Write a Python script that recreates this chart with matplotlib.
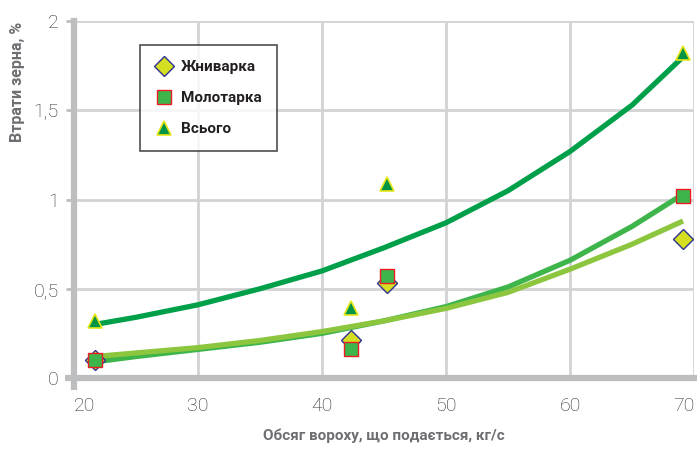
import matplotlib.pyplot as plt

# Point data
x_pts = [21.7, 42.3, 45.2, 69.1]
zhnyvarka = [0.10, 0.21, 0.53, 0.78]
molotarka = [0.10, 0.16, 0.57, 1.02]
vsogo = [0.32, 0.39, 1.09, 1.82]

# Trend curves
x_curve = [21.7, 25, 30, 35, 40, 45, 50, 55, 60, 65, 69.1]
vsogo_curve = [0.30, 0.34, 0.41, 0.50, 0.60, 0.73, 0.87, 1.05, 1.27, 1.53, 1.80]
molotarka_curve = [0.09, 0.12, 0.16, 0.20, 0.25, 0.32, 0.40, 0.51, 0.66, 0.85, 1.03]
zhnyvarka_curve = [0.12, 0.14, 0.17, 0.21, 0.26, 0.32, 0.39, 0.48, 0.61, 0.75, 0.88]

x_ticks = [20, 30, 40, 50, 60, 70]
y_ticks = [0, 0.5, 1, 1.5, 2]
y_ticklabels = ['0', '0,5', '1', '1,5', '2']

plt.rcParams['font.family'] = ['Roboto', 'DejaVu Sans']

fig = plt.figure(figsize=(6.97, 4.51), dpi=100)
ax = fig.add_axes([0.106, 0.162, 0.890, 0.791])

ax.plot(x_curve, vsogo_curve, color='#00a04b', lw=3.8, solid_capstyle='butt', zorder=2)
ax.plot(x_curve, molotarka_curve, color='#3db54a', lw=3.8, solid_capstyle='butt', zorder=2)
ax.plot(x_curve, zhnyvarka_curve, color='#8cc63f', lw=3.8, solid_capstyle='butt', zorder=2)

ax.plot(x_pts, zhnyvarka, ls='none', marker='D', ms=10, mfc='#d4df22', mec='#2e3192',
        mew=1.0, label='Жниварка', zorder=3)
ax.plot(x_pts, molotarka, ls='none', marker='s', ms=9.5, mfc='#3db54a', mec='#ed1c24',
        mew=1.0, label='Молотарка', zorder=4)
ax.plot(x_pts, vsogo, ls='none', marker='^', ms=10.5, mfc='#009444', mec='#e6e619',
        mew=1.2, label='Всього', zorder=5)

ax.set_xlim(20, 70)
ax.set_ylim(0, 2)
ax.set_xticks(x_ticks)
ax.set_yticks(y_ticks)
ax.set_yticklabels(y_ticklabels)

ax.grid(True, color='#d3d3d3', lw=2)
ax.set_axisbelow(True)
for s in ['top', 'right']:
    ax.spines[s].set_visible(False)
for s in ['left', 'bottom']:
    ax.spines[s].set_color('#bcbec0')
    ax.spines[s].set_linewidth(4.5)
    ax.spines[s].set_zorder(1)

ax.tick_params(axis='y', length=6, width=2, color='#bcbec0', labelsize=14,
               labelcolor='#2b2b2b', pad=5)
ax.tick_params(axis='x', length=0, labelsize=14, labelcolor='#2b2b2b', pad=14)
for lab in ax.get_yticklabels():
    lab.set_fontweight('light')
xlabs = ax.get_xticklabels()
for lab in xlabs:
    lab.set_fontweight('light')
xlabs[0].set_ha('left')
xlabs[-1].set_ha('right')

# spine extensions past the corner
trans = ax.transAxes
ax.plot([0, 0], [0, -0.035], transform=trans, color='#bcbec0', lw=4.5,
        clip_on=False, solid_capstyle='butt')
ax.plot([0, -0.014], [0, 0], transform=trans, color='#bcbec0', lw=4.5,
        clip_on=False, solid_capstyle='butt')

ax.set_ylabel('Втрати зерна, %', fontsize=11.5, fontweight='bold', color='#6d6e71')
ax.yaxis.set_label_coords(-0.078, 0.83)
ax.set_xlabel('Обсяг вороху, що подається, кг/с', fontsize=11, fontweight='bold',
              color='#6d6e71')
ax.xaxis.set_label_coords(0.50, -0.143)

leg = ax.legend(loc='upper left', bbox_to_anchor=(0.106, 0.933), borderaxespad=0,
                frameon=True, fancybox=False, fontsize=11, handletextpad=0.5,
                labelspacing=1.1, borderpad=1.0, handlelength=1.2)
leg.get_frame().set_edgecolor('#231f20')
leg.get_frame().set_linewidth(1.2)
for t in leg.get_texts():
    t.set_fontweight('bold')
    t.set_color('#231f20')

fig.savefig('out.png', dpi=100)
